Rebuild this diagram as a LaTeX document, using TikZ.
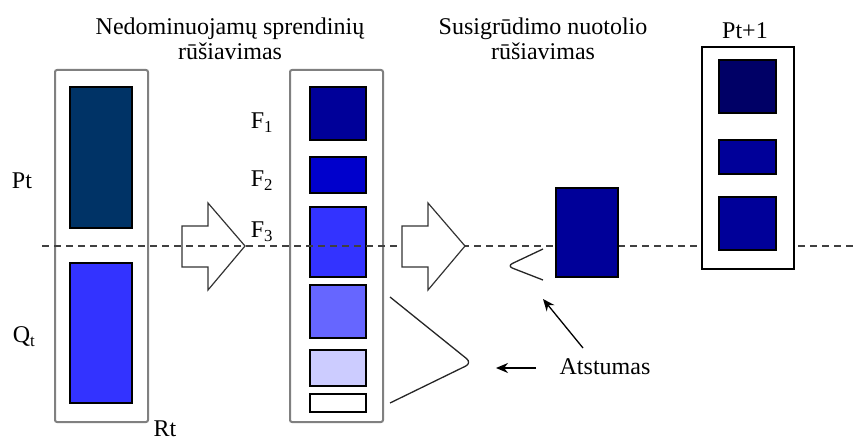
\documentclass[tikz,border=0pt]{standalone}
\usepackage{fontspec}
\setmainfont{LiberationSerif}[Extension=.ttf, UprightFont=*-Regular, BoldFont=*-Bold, ItalicFont=*-Italic, BoldItalicFont=*-BoldItalic]
\usetikzlibrary{arrows.meta}
\definecolor{navyP}{RGB}{0,51,102}
\definecolor{blueA}{RGB}{51,51,255}
\definecolor{blueF1}{RGB}{0,0,153}
\definecolor{blueF2}{RGB}{0,0,204}
\definecolor{blueF4}{RGB}{102,102,255}
\definecolor{blueF5}{RGB}{204,204,255}
\definecolor{navyN}{RGB}{0,0,102}
\definecolor{frameGray}{RGB}{128,128,128}
\definecolor{dashGray}{RGB}{64,64,64}
\tikzset{
  lbl/.style={font=\fontsize{24}{25}\selectfont, inner sep=0pt},
  frame/.style={draw=frameGray, line width=2pt, rounded corners=2pt, inner sep=0pt, minimum width=93pt, minimum height=352pt},
  blk/.style={draw=black, line width=1.2pt, inner sep=0pt},
  cut/.style={draw=dashGray, line width=1.5pt, dash pattern=on 7pt off 5pt},
  bigarrow/.style={draw=black!80, line width=1.2pt, fill=white, line join=miter},
  chev/.style={draw=black!85, line width=1.3pt, rounded corners=7pt},
  pointer/.style={draw=black, line width=1.3pt, -{Stealth[length=12pt,width=10pt]}}
}
\begin{document}
\begin{tikzpicture}[x=1pt, y=-1pt]
\useasboundingbox (0,0) rectangle (857,441);

% titles
\node[lbl, align=center] (t1) at (230,39) {Nedominuojamų sprendinių\\rūšiavimas};
\node[lbl, align=center] (t2) at (543,39) {Susigrūdimo nuotolio\\rūšiavimas};

% R_t : parents plus offspring
\node[frame] (rt) at (101.5,246) {};
\node[blk, fill=navyP, minimum width=62pt, minimum height=141pt] (pt) at (101,157.5) {};
\node[blk, fill=blueA, minimum width=62pt, minimum height=140pt] (qt) at (101,333) {};
\node[lbl] (ptl) at (22,181) {Pt};
\node[lbl] (qtl) at (24,337) {Q\textsubscript{t}};
\node[lbl] (rtl) at (165,429) {Rt};

% first block arrow
\path[bigarrow] (182,226) -- (208,226) -- (208,203) -- (245,246) -- (208,290) -- (208,267) -- (182,267) -- cycle;

% fronts F1, F2, ...
\node[frame] (fr) at (336.5,246) {};
\node[blk, fill=blueF1, minimum width=56pt, minimum height=53pt] (f1) at (338,113.5) {};
\node[blk, fill=blueF2, minimum width=56pt, minimum height=36pt] (f2) at (338,175) {};
\node[blk, fill=blueA,  minimum width=56pt, minimum height=70pt] (f3) at (338,242) {};
\node[blk, fill=blueF4, minimum width=56pt, minimum height=53pt] (f4) at (338,311.5) {};
\node[blk, fill=blueF5, minimum width=56pt, minimum height=36pt] (f5) at (338,368) {};
\node[blk, fill=white,  minimum width=56pt, minimum height=18pt] (f6) at (338,403) {};
\node[lbl] (f1l) at (262,123) {F\textsubscript{1}};
\node[lbl] (f2l) at (262,181) {F\textsubscript{2}};
\node[lbl] (f3l) at (262,232) {F\textsubscript{3}};

% dividing cut line
\coordinate (cutL) at (42,246);
\coordinate (cutR) at (857,246);
\draw[cut] (cutL) -- (cutR);

% second block arrow
\path[bigarrow] (402,226) -- (428,226) -- (428,203) -- (465,246) -- (428,290) -- (428,267) -- (402,267) -- cycle;

% rejected fronts bracket
\draw[chev] (390,297) -- (472,363) -- (390,403);

% crowding distance sorted front
\node[blk, fill=blueF1, minimum width=62pt, minimum height=89pt] (cd) at (587,232.5) {};
\draw[chev, rounded corners=6pt] (543,249) -- (507,266) -- (543,280);

% P_{t+1}
\node[draw=black, line width=1.5pt, fill=white, inner sep=0pt, minimum width=92pt, minimum height=222pt] (pn) at (748,158) {};
\node[blk, fill=navyN,  minimum width=57pt, minimum height=53pt] (b1) at (747.5,86.5) {};
\node[blk, fill=blueF1, minimum width=57pt, minimum height=34pt] (b2) at (747.5,157) {};
\node[blk, fill=blueF1, minimum width=57pt, minimum height=53pt] (b3) at (747.5,223.5) {};
\node[lbl] (pnl) at (745,31) {Pt+1};

% distance pointers
\node[lbl] (ats) at (605,367) {Atstumas};
\coordinate (aA) at (536,368);
\coordinate (aB) at (496,368);
\coordinate (aC) at (583,348);
\coordinate (aD) at (543,299);
\draw[pointer] (aA) -- (aB);
\draw[pointer] (aC) -- (aD);
\end{tikzpicture}
\end{document}
